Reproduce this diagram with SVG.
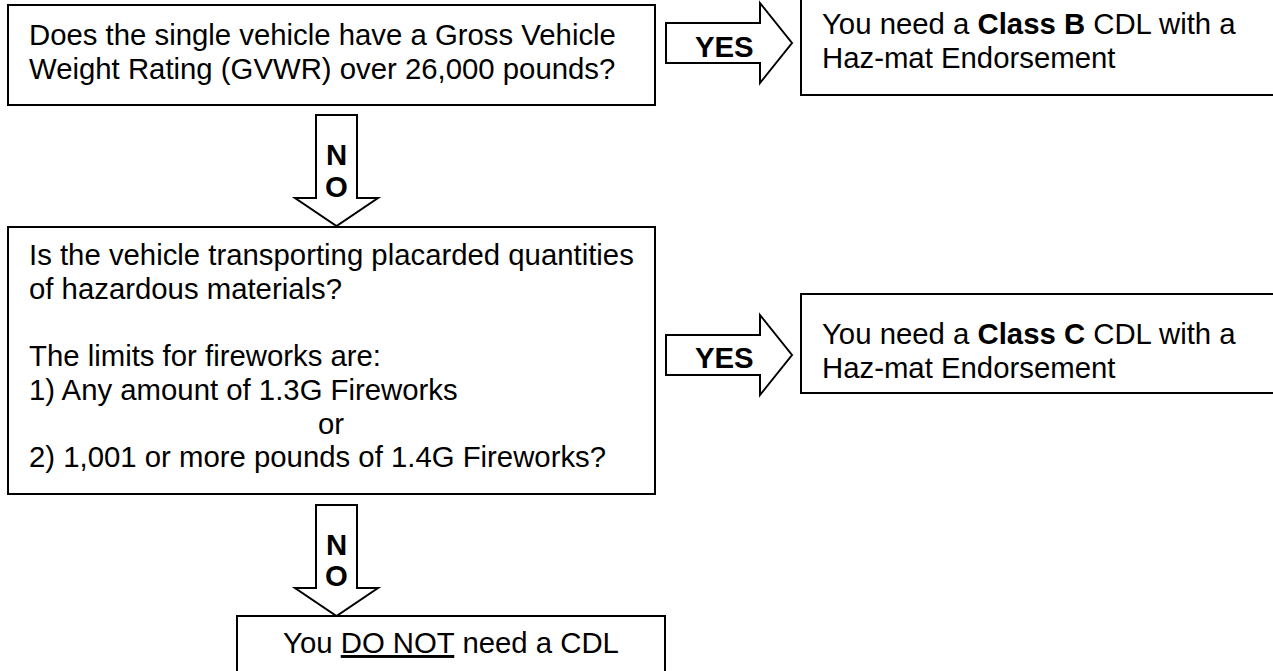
<svg xmlns="http://www.w3.org/2000/svg" width="1273" height="671" viewBox="0 0 1273 671">
<style>
.box{fill:#fff;stroke:#000;stroke-width:2}
.arr{fill:#fff;stroke:#000;stroke-width:2;stroke-linejoin:miter}
.t{font-family:"Liberation Sans",Arial,sans-serif;font-size:29.33px;fill:#000}
.b{font-weight:bold}
</style>
<rect width="1273" height="671" fill="#fff"/>
<g id="connectors">
<g id="yes1"><polygon class="arr" points="666,23 760,23 760,3 792,43 760,83 760,63 666,63"/><text class="t b" x="695" y="57">YES</text></g>
<g id="yes2"><polygon class="arr" points="666,335 760,335 760,315 792,355 760,395 760,375 666,375"/><text class="t b" x="695" y="368">YES</text></g>
<g id="no1"><polygon class="arr" points="316,115 357,115 357,198 378,198 336.5,226 295,198 316,198"/><text class="t b" x="336.5" y="165" text-anchor="middle">N</text><text class="t b" x="336.5" y="196.5" text-anchor="middle">O</text></g>
<g id="no2"><polygon class="arr" points="316,505 357,505 357,588 378,588 336.5,616 295,588 316,588"/><text class="t b" x="336.5" y="554.5" text-anchor="middle">N</text><text class="t b" x="336.5" y="586" text-anchor="middle">O</text></g>
</g>
<g id="q1">
<rect class="box" x="8" y="5" width="647" height="100"/>
<text class="t" x="29" y="45">Does the single vehicle have a Gross Vehicle</text>
<text class="t" x="29" y="79">Weight Rating (GVWR) over 26,000 pounds?</text>
</g>
<g id="classB">
<rect class="box" x="801" y="-5" width="480" height="100"/>
<text class="t" x="822" y="34">You need a <tspan class="b">Class B</tspan> CDL with a</text>
<text class="t" x="822" y="67.7">Haz-mat Endorsement</text>
</g>
<g id="q2">
<rect class="box" x="8" y="227" width="647" height="267"/>
<text class="t" x="29" y="265">Is the vehicle transporting placarded quantities</text>
<text class="t" x="29" y="298.7">of hazardous materials?</text>
<text class="t" x="29" y="366.1">The limits for fireworks are:</text>
<text class="t" x="29" y="399.8">1) Any amount of 1.3G Fireworks</text>
<text class="t" x="318" y="433.5">or</text>
<text class="t" x="29" y="467.2">2) 1,001 or more pounds of 1.4G Fireworks?</text>
</g>
<g id="classC">
<rect class="box" x="801" y="294" width="480" height="99"/>
<text class="t" x="822" y="344">You need a <tspan class="b">Class C</tspan> CDL with a</text>
<text class="t" x="822" y="377.7">Haz-mat Endorsement</text>
</g>
<g id="noCDL">
<rect class="box" x="237" y="616" width="428" height="80"/>
<text class="t" x="451" y="653" text-anchor="middle">You <tspan text-decoration="underline">DO NOT</tspan> need a CDL</text>
</g>
</svg>
